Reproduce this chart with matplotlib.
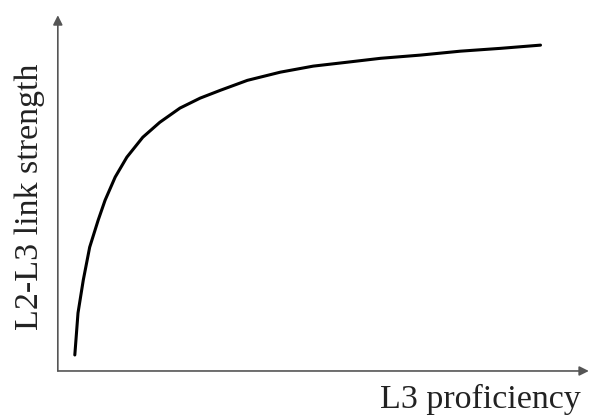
import matplotlib.pyplot as plt

# schematic curve (arbitrary units 0-100)
proficiency = [3.2, 3.8, 4.8, 6.0, 7.6, 8.9, 10.8, 13.0, 16.0, 19.2, 23.0, 26.8, 30.6,
               35.7, 41.9, 48.1, 54.5, 60.8, 68.3, 75.8, 83.4, 90.9]
link_strength = [4.5, 16.3, 25.6, 34.8, 42.4, 48.0, 54.5, 60.1, 65.7, 69.9, 73.9, 76.7, 78.9,
                 81.7, 84.0, 85.7, 86.8, 87.9, 88.8, 89.9, 90.7, 91.6]

plt.rcParams['font.family'] = ['Liberation Serif', 'DejaVu Serif']

fig = plt.figure(figsize=(5.9, 4.19), dpi=100)
ax = fig.add_axes([0.098, 0.1146, 0.9, 0.849])
ax.plot(proficiency, link_strength, color='black', lw=2.2,
        solid_capstyle='round', solid_joinstyle='round')
ax.set_xlim(0, 100)
ax.set_ylim(0, 100)
ax.set_xticks([])
ax.set_yticks([])
for s in ax.spines.values():
    s.set_visible(False)

arrow = dict(arrowstyle='-|>', color='#555555', lw=1.2, mutation_scale=14,
             shrinkA=0, shrinkB=0)
ax.annotate('', xy=(0, 1), xytext=(0, 0), xycoords='axes fraction', arrowprops=arrow)
ax.annotate('', xy=(1, 0), xytext=(0, 0), xycoords='axes fraction', arrowprops=arrow)

fig.text(0.814, 0.047, 'L3 proficiency', ha='center', va='center', fontsize=24.5, color='#222222')
fig.text(0.051, 0.53, 'L2-L3 link strength', ha='center', va='center', rotation=90,
         fontsize=24.5, color='#222222')

plt.savefig('out.png', dpi=100)
